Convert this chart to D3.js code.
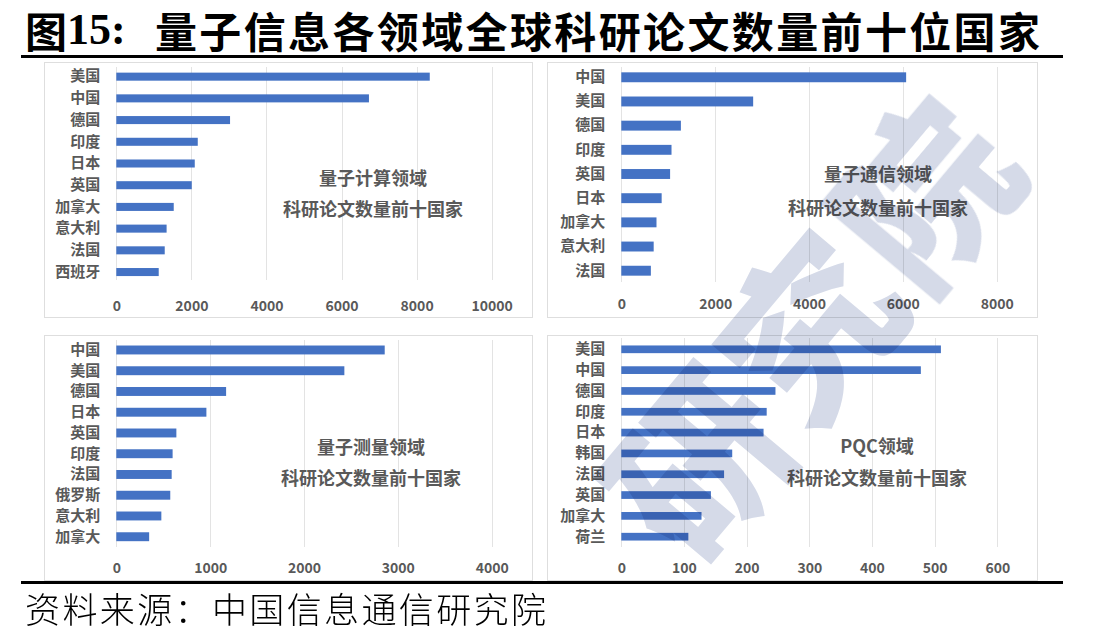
<!DOCTYPE html>
<html>
<head>
<meta charset="utf-8">
<script src="https://cdn.jsdelivr.net/npm/d3@7"></script>
<style>
  body { margin: 0; background: #fff; }
  svg { display: block; }
</style>
</head>
<body>
<svg id="chart" width="1106" height="641"></svg>
<script>
// 量子计算领域
var computingCountries = ["美国", "中国", "德国", "印度", "日本", "英国", "加拿大", "意大利", "法国", "西班牙"];
var computingPapers = [8350, 6730, 3030, 2170, 2090, 2010, 1530, 1340, 1290, 1130];
var computingTicks = [0, 2000, 4000, 6000, 8000, 10000];

// 量子通信领域
var commCountries = ["中国", "美国", "德国", "印度", "英国", "日本", "加拿大", "意大利", "法国"];
var commPapers = [6070, 2810, 1270, 1070, 1040, 860, 750, 690, 630];
var commTicks = [0, 2000, 4000, 6000, 8000];

// 量子测量领域
var sensingCountries = ["中国", "美国", "德国", "日本", "英国", "印度", "法国", "俄罗斯", "意大利", "加拿大"];
var sensingPapers = [2860, 2430, 1170, 960, 640, 600, 590, 575, 480, 350];
var sensingTicks = [0, 1000, 2000, 3000, 4000];

// PQC领域
var pqcCountries = ["美国", "中国", "德国", "印度", "日本", "韩国", "法国", "英国", "加拿大", "荷兰"];
var pqcPapers = [510, 478, 246, 232, 227, 177, 164, 143, 128, 107];
var pqcTicks = [0, 100, 200, 300, 400, 500, 600];

var noteLine2 = "科研论文数量前十国家";

var svg = d3.select("#chart");
var CJK = "'Noto Sans CJK SC', 'Noto Sans', sans-serif";
var GREY = "#595959";
var BLUE = "#4472C4";

// title
svg.append("text")
    .attr("x", 25).attr("y", 29)
    .attr("dominant-baseline", "central")
    .attr("font-family", CJK).attr("font-weight", 700).attr("font-size", 42)
    .text("图");
svg.append("text")
    .attr("x", 67).attr("y", 29)
    .attr("dominant-baseline", "central")
    .attr("font-family", "'Liberation Serif', serif").attr("font-weight", 700).attr("font-size", 44)
    .text("15:");
svg.append("text")
    .attr("x", 155).attr("y", 29)
    .attr("dominant-baseline", "central")
    .attr("font-family", CJK).attr("font-weight", 700).attr("font-size", 42)
    .attr("textLength", 885).attr("lengthAdjust", "spacing")
    .text("量子信息各领域全球科研论文数量前十位国家");
svg.append("rect").attr("x", 21).attr("y", 55).attr("width", 1042).attr("height", 3).attr("fill", "#000");

var panels = [
    { countries: computingCountries, values: computingPapers, ticks: computingTicks, note: "量子计算领域",
      box: [44, 62, 488, 255], xr: [116.3, 491.7], yr: [65.8, 282.9], pad: 0.63, grid: [67, 280], tickY: 307, noteAt: [373, 177, 208] },
    { countries: commCountries, values: commPapers, ticks: commTicks, note: "量子通信领域",
      box: [547, 62, 490, 255], xr: [621.3, 996.7], yr: [65.2, 282.8], pad: 0.59, grid: [67, 282], tickY: 305, noteAt: [878, 173, 207] },
    { countries: sensingCountries, values: sensingPapers, ticks: sensingTicks, note: "量子测量领域",
      box: [44, 335, 488, 245], xr: [116.3, 491.7], yr: [339.6, 547.1], pad: 0.57, grid: [340, 547], tickY: 569, noteAt: [371, 446, 477] },
    { countries: pqcCountries, values: pqcPapers, ticks: pqcTicks, note: "PQC领域",
      box: [547, 335, 490, 245], xr: [621.3, 997.3], yr: [338.9, 547.1], pad: 0.63, grid: [338, 547], tickY: 569, noteAt: [877, 445, 477] }
];

panels.forEach(function (p) {
    var g = svg.append("g");
    var x = d3.scaleLinear()
        .domain([0, p.ticks[p.ticks.length - 1]])
        .range(p.xr);
    var y = d3.scaleBand()
        .domain(p.countries)
        .range(p.yr)
        .paddingInner(p.pad)
        .paddingOuter(p.pad / 2);

    g.append("rect")
        .attr("x", p.box[0] + 0.5).attr("y", p.box[1] + 0.5)
        .attr("width", p.box[2]).attr("height", p.box[3])
        .attr("fill", "#fff").attr("stroke", "#dedede");

    g.selectAll(".grid")
        .data(p.ticks)
        .enter().append("line")
        .attr("x1", function (d) { return Math.round(x(d)) + 0.5; })
        .attr("x2", function (d) { return Math.round(x(d)) + 0.5; })
        .attr("y1", p.grid[0]).attr("y2", p.grid[1])
        .attr("stroke", "#e3e3e3").attr("stroke-width", 1);

    g.selectAll(".bar")
        .data(p.values)
        .enter().append("rect")
        .attr("x", x(0))
        .attr("y", function (d, i) { return y(p.countries[i]); })
        .attr("width", function (d) { return x(d) - x(0); })
        .attr("height", y.bandwidth())
        .attr("fill", BLUE);

    var yAxis = g.append("g")
        .attr("transform", "translate(" + x(0) + ",0)")
        .call(d3.axisLeft(y).tickSize(0).tickPadding(16));
    yAxis.select(".domain").remove();
    yAxis.selectAll("text")
        .attr("font-family", CJK).attr("font-size", 15).attr("font-weight", 700).attr("fill", GREY);

    var xAxis = g.append("g")
        .attr("transform", "translate(0," + (p.tickY - 6) + ")")
        .call(d3.axisBottom(x).tickValues(p.ticks).tickSize(0).tickPadding(0).tickFormat(d3.format("d")));
    xAxis.select(".domain").remove();
    xAxis.selectAll("text")
        .attr("font-family", CJK).attr("font-size", 14).attr("font-weight", 700).attr("fill", GREY);

    g.append("text")
        .attr("x", p.noteAt[0]).attr("y", p.noteAt[1])
        .attr("text-anchor", "middle").attr("dominant-baseline", "central")
        .attr("font-family", CJK).attr("font-size", 18).attr("font-weight", 700).attr("fill", GREY)
        .text(p.note);
    g.append("text")
        .attr("x", p.noteAt[0]).attr("y", p.noteAt[2])
        .attr("text-anchor", "middle").attr("dominant-baseline", "central")
        .attr("font-family", CJK).attr("font-size", 18).attr("font-weight", 700).attr("fill", GREY)
        .text(noteLine2);
});

// watermark over the right-hand panels, kept inside them
var wm = svg.append("g").style("mix-blend-mode", "multiply");
[["研", 692, 458], ["究", 803, 322], ["院", 918, 188]].forEach(function (c) {
    wm.append("text")
        .attr("transform", "translate(" + c[1] + "," + c[2] + ") rotate(-50)")
        .attr("text-anchor", "middle").attr("dominant-baseline", "central")
        .attr("font-family", CJK).attr("font-size", 172).attr("font-weight", 900)
        .attr("fill", "#d5dae8")
        .text(c[0]);
});

// source
svg.append("rect").attr("x", 21).attr("y", 581).attr("width", 1042).attr("height", 3).attr("fill", "#000");
svg.append("text")
    .attr("x", 25).attr("y", 607)
    .attr("dominant-baseline", "central")
    .attr("font-family", CJK).attr("font-size", 35).attr("font-weight", 300)
    .attr("textLength", 521).attr("lengthAdjust", "spacing")
    .text("资料来源：中国信息通信研究院");
</script>
</body>
</html>
